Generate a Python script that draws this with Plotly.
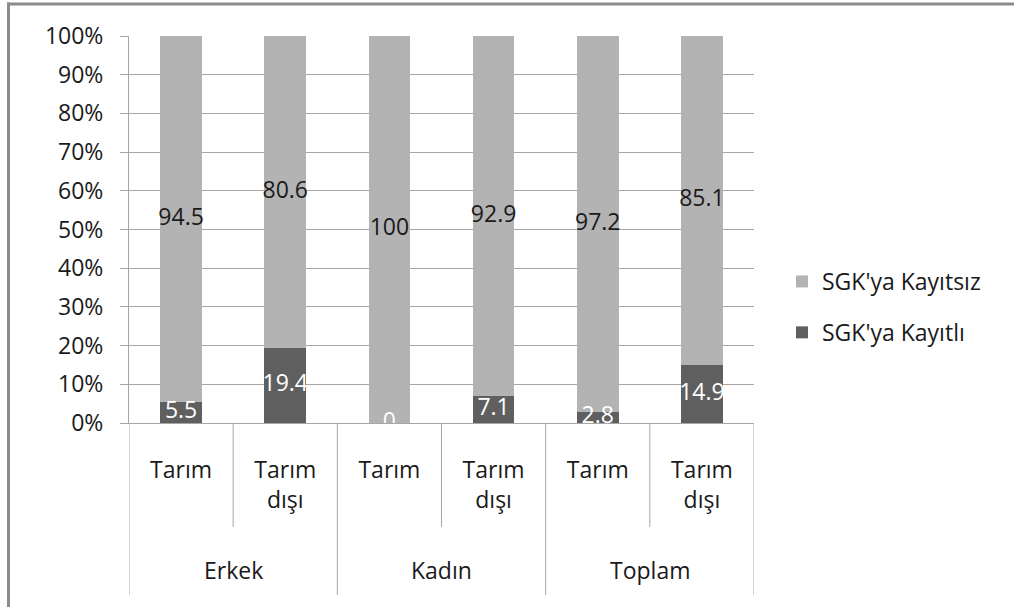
import plotly.graph_objects as go

groups = ["Erkek", "Erkek", "Kadın", "Kadın", "Toplam", "Toplam"]
sectors = ["Tarım", "Tarım<br>dışı", "Tarım", "Tarım<br>dışı", "Tarım", "Tarım<br>dışı"]
kayitli = [5.5, 19.4, 0, 7.1, 2.8, 14.9]
kayitsiz = [94.5, 80.6, 100, 92.9, 97.2, 85.1]
y_ticks = [0, 10, 20, 30, 40, 50, 60, 70, 80, 90, 100]
y_ticktext = [f"{v}%" for v in y_ticks]

FONT = "Open Sans"
FS = 23
LIGHT = "#B3B3B3"
DARK = "#5F5F5F"
GRID = "#A6A6A6"
TXT = "#1A1A1A"

W, H = 1014, 607
ML, MT = 129, 36
PW, PH = 625, 387
MR = W - ML - PW
MB = H - MT - PH
Y0 = MT + PH

def py(ref_y):
    return (Y0 - ref_y) / PH

def px(ref_x):
    return (ref_x - ML) / PW

xpos = list(range(len(sectors)))

def fmt(v):
    return f"{v:g}"

fig = go.Figure()
fig.add_trace(go.Bar(
    x=xpos, y=kayitli, name="SGK'ya Kayıtlı", marker=dict(color=DARK, line=dict(width=0)),
    width=0.4, legendgroup="a", legendrank=2, hoverinfo="skip",
))
fig.add_trace(go.Bar(
    x=xpos, y=kayitsiz, name="SGK'ya Kayıtsız", marker=dict(color=LIGHT, line=dict(width=0)),
    width=0.4, legendgroup="b", legendrank=1, hoverinfo="skip",
))
fig.add_trace(go.Scatter(
    x=xpos, y=[v / 2 for v in kayitli], mode="text", text=[fmt(v) for v in kayitli],
    textfont=dict(family=FONT, size=FS, color="white"), showlegend=False, cliponaxis=False,
    hoverinfo="skip",
))
fig.add_trace(go.Scatter(
    x=xpos, y=[a + b / 2 for a, b in zip(kayitli, kayitsiz)], mode="text",
    text=[fmt(v) for v in kayitsiz],
    textfont=dict(family=FONT, size=FS, color=TXT), showlegend=False, cliponaxis=False,
    hoverinfo="skip",
))

shapes = []
group_bounds = [-0.5]
for i in range(1, len(groups)):
    if groups[i] != groups[i - 1]:
        group_bounds.append(i - 0.5)
group_bounds.append(len(groups) - 0.5)
sub_bounds = [i - 0.5 for i in range(1, len(groups)) if groups[i] == groups[i - 1]]
for xb in sub_bounds:
    shapes.append(dict(type="line", xref="x", yref="paper", x0=xb, x1=xb, y0=0, y1=py(527),
                       line=dict(color=GRID, width=1)))
for xb in group_bounds:
    shapes.append(dict(type="line", xref="x", yref="paper", x0=xb, x1=xb, y0=0, y1=py(595),
                       line=dict(color=GRID, width=1)))
shapes.append(dict(type="line", xref="paper", yref="paper", x0=px(7), x1=px(1014), y0=py(4), y1=py(4),
                   line=dict(color="#8C8C8C", width=3)))
shapes.append(dict(type="line", xref="paper", yref="paper", x0=px(8.5), x1=px(8.5), y0=py(2.5), y1=py(607),
                   line=dict(color="#8C8C8C", width=3)))

annotations = []
seen = []
for g in groups:
    if g not in seen:
        seen.append(g)
for g in seen:
    idx = [i for i, gg in enumerate(groups) if gg == g]
    annotations.append(dict(x=sum(idx) / len(idx), xref="x", y=py(570), yref="paper",
                            text=g, showarrow=False, xanchor="center", yanchor="middle",
                            font=dict(family=FONT, size=FS, color=TXT)))

fig.update_layout(
    width=W, height=H,
    margin=dict(l=ML, r=MR, t=MT, b=MB, pad=0),
    barmode="stack",
    paper_bgcolor="white", plot_bgcolor="white",
    font=dict(family=FONT, size=FS, color=TXT),
    showlegend=True,
    legend=dict(x=px(782), y=py(307), xanchor="left", yanchor="middle",
                traceorder="grouped", tracegroupgap=18,
                font=dict(family=FONT, size=FS, color=TXT), bgcolor="rgba(0,0,0,0)"),
    shapes=shapes,
    annotations=annotations,
    hovermode=False,
)
fig.update_xaxes(
    range=[-0.5, len(sectors) - 0.5], tickvals=xpos, ticktext=sectors,
    showgrid=False, zeroline=False, showline=True, linecolor=GRID, linewidth=1,
    ticks="", ticklabelstandoff=26, tickfont=dict(family=FONT, size=FS, color=TXT),
)
fig.update_yaxes(
    range=[0, 100], tickvals=y_ticks, ticktext=y_ticktext,
    showgrid=True, gridcolor=GRID, gridwidth=1, zeroline=False,
    showline=True, linecolor=GRID, linewidth=1,
    ticks="outside", ticklen=8, tickcolor=GRID, ticklabelstandoff=12,
    tickfont=dict(family=FONT, size=FS, color=TXT),
)

fig.write_html("out.html", config={"displayModeBar": False},
               post_script="document.body.style.margin='0';")
